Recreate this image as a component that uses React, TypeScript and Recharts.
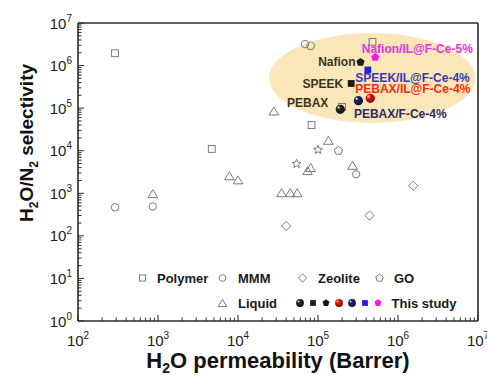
import React from "react";
import {
  ScatterChart,
  Scatter,
  XAxis,
  YAxis,
  ReferenceArea,
  ReferenceLine,
  Label,
} from "recharts";

const W = 487;
const H = 379;
const FONT = "Arial, 'Liberation Sans', Helvetica, sans-serif";
const AXIS = "#2b2b2b";
const GRAY = "#7a7a7a";
const DARK = "#3b3420";

// decade exponents shown as tick labels
const X_DECADES = [2, 3, 4, 5, 6, 7];
const Y_DECADES = [0, 1, 2, 3, 4, 5, 6, 7];

// literature data: H2O permeability (Barrer) vs H2O/N2 selectivity
const polymer = [
  { x: 290, y: 1.95e6 },
  { x: 4700, y: 1.1e4 },
  { x: 8.3e4, y: 4.0e4 },
  { x: 2.0e5, y: 1.07e5 },
  { x: 4.8e5, y: 3.6e6 },
];
const mmm = [
  { x: 290, y: 470 },
  { x: 860, y: 490 },
  { x: 6.9e4, y: 3.2e6 },
  { x: 3.0e5, y: 2.8e3 },
];
const zeolite = [
  { x: 4.0e4, y: 170 },
  { x: 4.4e5, y: 300 },
  { x: 1.55e6, y: 1.5e3 },
];
const go = [
  { x: 8.1e4, y: 2.9e6 },
  { x: 1.8e5, y: 1.0e4 },
];
const liquid = [
  { x: 860, y: 950 },
  { x: 7800, y: 2.5e3 },
  { x: 1.0e4, y: 2.0e3 },
  { x: 2.8e4, y: 8.3e4 },
  { x: 3.5e4, y: 1.0e3 },
  { x: 4.5e4, y: 1.0e3 },
  { x: 5.5e4, y: 1.0e3 },
  { x: 7.4e4, y: 3.3e3 },
  { x: 8.1e4, y: 3.9e3 },
  { x: 1.35e5, y: 1.7e4 },
  { x: 2.7e5, y: 4.4e3 },
];
const other = [
  { x: 5.4e4, y: 4.9e3 },
  { x: 1.0e5, y: 1.05e4 },
];

// this study
const studyNames = [
  "PEBAX",
  "SPEEK",
  "Nafion",
  "PEBAX/IL@F-Ce-4%",
  "PEBAX/F-Ce-4%",
  "SPEEK/IL@F-Ce-4%",
  "Nafion/IL@F-Ce-5%",
];
const studyX = [1.9e5, 2.6e5, 3.4e5, 4.5e5, 3.2e5, 4.2e5, 5.2e5];
const studyY = [9.4e4, 3.8e5, 1.2e6, 1.7e5, 1.5e5, 7.9e5, 1.56e6];

// highlighted region (the shaded ellipse)
const region = { x1: 2.45e4, x2: 9.2e6, y1: 4.5e4, y2: 5.8e6 };

// marker + label styling for the study points
const STUDY_STYLE = [
  { kind: "sphere", color: "#2a2a2a", text: DARK, dx: -12, dy: -2, anchor: "end" },
  { kind: "square", color: "#1e1a10", text: DARK, dx: -8, dy: 4.5, anchor: "end" },
  { kind: "pentagon", color: "#1e1a10", text: DARK, dx: -5, dy: 3.5, anchor: "end" },
  { kind: "sphere", color: "#ff1a00", text: "#ff2a10", dx: -15, dy: -5, anchor: "start" },
  { kind: "sphere", color: "#23236e", text: "#2e2a66", dx: -4.5, dy: 17.5, anchor: "start" },
  { kind: "square", color: "#2020e0", text: "#3838b8", dx: -12.5, dy: 12.5, anchor: "start" },
  { kind: "pentagon", color: "#ff10ee", text: "#ee30d8", dx: -13.5, dy: -4.5, anchor: "start" },
];

const majorX = X_DECADES.map((e) => Math.pow(10, e));
const majorY = Y_DECADES.map((e) => Math.pow(10, e));
const withMinors = (majors: number[]) => {
  const out: number[] = [];
  majors.forEach((m, i) => {
    out.push(m);
    if (i < majors.length - 1) {
      for (let k = 2; k <= 9; k++) out.push(k * m);
    }
  });
  return out;
};
const xTicks = withMinors(majorX);
const yTicks = withMinors(majorY);

const isMajor = (v: number) => {
  const l = Math.log10(v);
  return Math.abs(l - Math.round(l)) < 1e-9;
};

function polyPoints(cx: number, cy: number, n: number, rOut: number, rIn?: number) {
  const pts: string[] = [];
  const count = rIn ? n * 2 : n;
  for (let i = 0; i < count; i++) {
    const r = rIn && i % 2 === 1 ? rIn : rOut;
    const a = (-90 + (360 / count) * i) * (Math.PI / 180);
    pts.push(`${cx + r * Math.cos(a)},${cy + r * Math.sin(a)}`);
  }
  return pts.join(" ");
}

function darken(hex: string) {
  const n = parseInt(hex.slice(1), 16);
  const r = Math.round(((n >> 16) & 255) * 0.45);
  const g = Math.round(((n >> 8) & 255) * 0.45);
  const b = Math.round((n & 255) * 0.45);
  return `rgb(${r},${g},${b})`;
}

function marker(kind: string, cx: number, cy: number, color?: string, gid?: string, scale = 1) {
  const hollow = !color;
  const fill = hollow ? "none" : color;
  const stroke = hollow ? GRAY : "none";
  const sw = 1;
  const k = scale;
  switch (kind) {
    case "square":
      return (
        <rect x={cx - 3.4 * k} y={cy - 3.4 * k} width={6.8 * k} height={6.8 * k} fill={fill} stroke={stroke} strokeWidth={sw} />
      );
    case "circle":
      return <circle cx={cx} cy={cy} r={3.7 * k} fill={fill} stroke={stroke} strokeWidth={sw} />;
    case "triangle":
      return (
        <polygon
          points={`${cx},${cy - 4.6 * k} ${cx + 4.8 * k},${cy + 3.4 * k} ${cx - 4.8 * k},${cy + 3.4 * k}`}
          fill={fill}
          stroke={stroke}
          strokeWidth={sw}
        />
      );
    case "diamond":
      return (
        <polygon
          points={`${cx},${cy - 4.6 * k} ${cx + 4.6 * k},${cy} ${cx},${cy + 4.6 * k} ${cx - 4.6 * k},${cy}`}
          fill={fill}
          stroke={stroke}
          strokeWidth={sw}
        />
      );
    case "pentagon":
      return <polygon points={polyPoints(cx, cy, 5, 4.3 * k)} fill={fill} stroke={stroke} strokeWidth={sw} />;
    case "star":
      return <polygon points={polyPoints(cx, cy, 5, 4.6 * k, 2 * k)} fill={fill} stroke={stroke} strokeWidth={sw} />;
    case "sphere":
      return (
        <g>
          <defs>
            <radialGradient id={gid} cx="38%" cy="38%" r="62%" fx="30%" fy="28%">
              <stop offset="0%" stopColor="#ffffff" />
              <stop offset="30%" stopColor={color} />
              <stop offset="100%" stopColor={darken(color || "#000000")} />
            </radialGradient>
          </defs>
          <circle cx={cx} cy={cy} r={4.6 * k} fill={`url(#${gid})`} />
        </g>
      );
    default:
      return null;
  }
}

const hollowShape = (kind: string) => (p: any) => marker(kind, p.cx, p.cy);

const studyShape = (i: number) => (p: any) => {
  const s = STUDY_STYLE[i];
  return (
    <g>
      {marker(s.kind, p.cx, p.cy, s.color, `study-grad-${i}`)}
      <text
        x={p.cx + s.dx}
        y={p.cy + s.dy}
        textAnchor={s.anchor as any}
        fontFamily={FONT}
        fontWeight="bold"
        fontSize={12}
        fill={s.text}
      >
        {studyNames[i]}
      </text>
    </g>
  );
};

const XTick = (p: any) => {
  const v = p.payload.value;
  const major = isMajor(v);
  return (
    <g>
      <line x1={p.x} x2={p.x} y1={p.y} y2={p.y - (major ? 6 : 3.5)} stroke={AXIS} strokeWidth={1} />
      {major && (
        <text x={p.x} y={p.y + 25} textAnchor="middle" fontFamily={FONT} fontSize={15} fill="#222">
          10
          <tspan dy={-7} fontSize={10}>
            {Math.round(Math.log10(v))}
          </tspan>
        </text>
      )}
    </g>
  );
};

const YTick = (p: any) => {
  const v = p.payload.value;
  const major = isMajor(v);
  return (
    <g>
      <line x1={p.x} x2={p.x + (major ? 6 : 3.5)} y1={p.y} y2={p.y} stroke={AXIS} strokeWidth={1} />
      {major && (
        <text x={p.x - 6} y={p.y + 5.5} textAnchor="end" fontFamily={FONT} fontSize={15} fill="#222">
          10
          <tspan dy={-7} fontSize={10}>
            {Math.round(Math.log10(v))}
          </tspan>
        </text>
      )}
    </g>
  );
};

const XTitle = (p: any) => {
  const vb = p.viewBox || { x: 78, y: 321, width: 400 };
  return (
    <text
      x={vb.x + vb.width / 2}
      y={vb.y + 47}
      textAnchor="middle"
      fontFamily={FONT}
      fontWeight="bold"
      fontSize={22}
      fill="#111"
    >
      H
      <tspan dy={5} fontSize={14}>
        2
      </tspan>
      <tspan dy={-5}>O permeability (Barrer)</tspan>
    </text>
  );
};

const YTitle = (p: any) => {
  const vb = p.viewBox || { x: 0, y: 23, height: 298 };
  const tx = vb.x + 33;
  const ty = vb.y + vb.height / 2 - 29;
  return (
    <text
      x={tx}
      y={ty}
      transform={`rotate(-90, ${tx}, ${ty})`}
      textAnchor="middle"
      fontFamily={FONT}
      fontWeight="bold"
      fontSize={19}
      fill="#111"
    >
      H
      <tspan dy={5} fontSize={12}>
        2
      </tspan>
      <tspan dy={-5}>O/N</tspan>
      <tspan dy={5} fontSize={12}>
        2
      </tspan>
      <tspan dy={-5}> selectivity</tspan>
    </text>
  );
};

const renderEllipse = (p: any) => (
  <ellipse
    cx={p.x + p.width / 2}
    cy={p.y + p.height / 2}
    rx={p.width / 2}
    ry={p.height / 2}
    fill="#fbe6b8"
  />
);

const legendRow1 = [
  { kind: "square", label: "Polymer", mx: 142.5, tx: 157 },
  { kind: "circle", label: "MMM", mx: 222.5, tx: 238 },
  { kind: "diamond", label: "Zeolite", mx: 302.5, tx: 318 },
  { kind: "pentagon", label: "GO", mx: 379.5, tx: 394 },
];

function LegendOverlay() {
  const r1 = 278;
  const r2 = 303;
  const txt = (x: number, y: number, s: string) => (
    <text x={x} y={y + 4.6} fontFamily={FONT} fontWeight="bold" fontSize={13} fill="#1a1a1a">
      {s}
    </text>
  );
  return (
    <svg width={W} height={H} style={{ position: "absolute", left: 0, top: 0, pointerEvents: "none" }}>
      {legendRow1.map((it) => (
        <g key={it.label}>
          {marker(it.kind, it.mx, r1, undefined, undefined, 0.9)}
          {txt(it.tx, r1, it.label)}
        </g>
      ))}
      {marker("triangle", 222.5, r2 + 0.5, undefined, undefined, 0.9)}
      {txt(238, r2, "Liquid")}
      {STUDY_STYLE.map((s, i) => (
        <g key={i}>{marker(s.kind, 300 + i * 13, r2, s.color, `legend-grad-${i}`, 0.85)}</g>
      ))}
      {txt(391.5, r2, "This study")}
    </svg>
  );
}

export default function App() {
  return (
    <div style={{ position: "absolute", left: 0, top: 0, width: W, height: H, background: "#fff" }}>
      <ScatterChart width={W} height={H} margin={{ top: 23, right: 9, left: 0, bottom: 0 }}>
        <XAxis
          type="number"
          dataKey="x"
          scale="log"
          domain={[1e2, 1e7]}
          allowDataOverflow
          ticks={xTicks}
          interval={0}
          tick={(p: any) => <XTick {...p} />}
          tickLine={false}
          tickSize={0}
          tickMargin={0}
          axisLine={{ stroke: AXIS, strokeWidth: 1.6 }}
          height={58}
        >
          <Label content={(p: any) => <XTitle {...p} />} />
        </XAxis>
        <YAxis
          type="number"
          dataKey="y"
          scale="log"
          domain={[1, 1e7]}
          allowDataOverflow
          ticks={yTicks}
          interval={0}
          tick={(p: any) => <YTick {...p} />}
          tickLine={false}
          tickSize={0}
          tickMargin={0}
          axisLine={{ stroke: AXIS, strokeWidth: 1.6 }}
          width={78}
        >
          <Label content={(p: any) => <YTitle {...p} />} />
        </YAxis>
        <ReferenceArea
          x1={region.x1}
          x2={region.x2}
          y1={region.y1}
          y2={region.y2}
          shape={renderEllipse}
          ifOverflow="visible"
        />
        <ReferenceLine y={1e7} stroke={AXIS} strokeWidth={1.6} />
        <ReferenceLine x={1e7} stroke={AXIS} strokeWidth={1.6} />
        <Scatter name="Polymer" data={polymer} shape={hollowShape("square")} isAnimationActive={false} />
        <Scatter name="MMM" data={mmm} shape={hollowShape("circle")} isAnimationActive={false} />
        <Scatter name="Zeolite" data={zeolite} shape={hollowShape("diamond")} isAnimationActive={false} />
        <Scatter name="GO" data={go} shape={hollowShape("pentagon")} isAnimationActive={false} />
        <Scatter name="Liquid" data={liquid} shape={hollowShape("triangle")} isAnimationActive={false} />
        <Scatter name="Other" data={other} shape={hollowShape("star")} isAnimationActive={false} />
        {studyNames.map((name, i) => (
          <Scatter
            key={name}
            name={name}
            data={[{ x: studyX[i], y: studyY[i] }]}
            shape={studyShape(i)}
            isAnimationActive={false}
          />
        ))}
      </ScatterChart>
      <LegendOverlay />
    </div>
  );
}
